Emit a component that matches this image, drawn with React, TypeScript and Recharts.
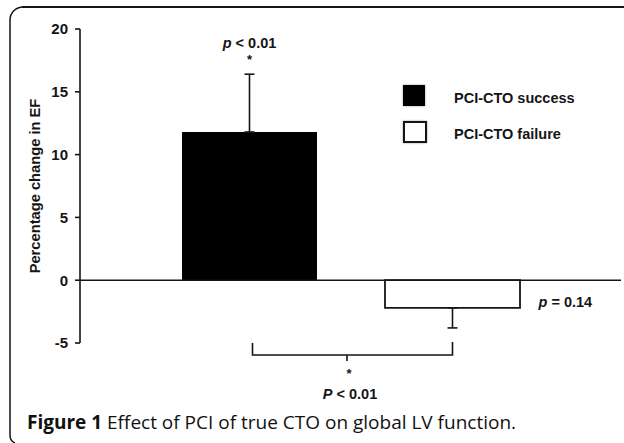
import React from "react";
import {
  BarChart,
  Bar,
  XAxis,
  YAxis,
  Cell,
  ErrorBar,
  ReferenceLine,
  ReferenceDot,
  Legend,
} from "recharts";

const groups = ["PCI-CTO success", "PCI-CTO failure"];
const efChange = [11.8, -2.2];
const errLow = [0, 1.6];
const errHigh = [4.6, 0];
const fills = ["#000000", "#ffffff"];
const yTicks = [-5, 0, 5, 10, 15, 20];

const data = groups.map((g, i) => ({
  group: g,
  value: efChange[i],
  err: [errLow[i], errHigh[i]],
}));

const INK = "#151515";
const BOLD = { fontFamily: "'Liberation Sans', Arial, sans-serif", fontWeight: 700 };

function PText({ viewBox, italic, rest, dx = 0, anchor = "middle" }: any) {
  const { x, y } = viewBox;
  return (
    <text x={x + dx} y={y} dy="0.35em" textAnchor={anchor} fontSize={14.5} fill={INK} style={BOLD}>
      <tspan fontStyle="italic">{italic}</tspan>
      {rest}
    </text>
  );
}

function Star({ viewBox }: any) {
  return (
    <text x={viewBox.x} y={viewBox.y} dy="0.7em" textAnchor="middle" fontSize={13} fill={INK} style={BOLD}>
      *
    </text>
  );
}

// comparison bracket between the two groups, with the shared p value under it
function Bracket({ x1, x2, y1 }: any) {
  const mid = (x1 + x2) / 2;
  return (
    <g stroke={INK} strokeWidth={1.6} fill="none">
      <path d={`M${x1 + 3},${y1 - 12} V${y1} H${x2} V${y1 - 13}`} />
      <path d={`M${mid - 4},${y1} V${y1 + 6}`} />
      <text x={mid - 2} y={y1 + 19} dy="0.35em" textAnchor="middle" fontSize={13} fill={INK} stroke="none" style={BOLD}>
        *
      </text>
      <text x={mid - 1} y={y1 + 39} dy="0.35em" textAnchor="middle" fontSize={14.5} fill={INK} stroke="none" style={BOLD}>
        <tspan fontStyle="italic">P</tspan>
        {" < 0.01"}
      </text>
    </g>
  );
}

function LegendBox() {
  return (
    <div style={{ display: "flex", flexDirection: "column", gap: 15 }}>
      {groups.map((g, i) => (
        <div key={g} style={{ display: "flex", alignItems: "center" }}>
          <div
            style={{
              width: fills[i] === "#ffffff" ? 20 : 22,
              height: fills[i] === "#ffffff" ? 18 : 21,
              background: fills[i],
              border: fills[i] === "#ffffff" ? `2px solid ${INK}` : "none",
              boxShadow: "0 0 2px rgba(0,0,0,0.4)",
            }}
          />
          <span style={{ ...BOLD, fontSize: 14.5, color: INK, marginLeft: fills[i] === "#ffffff" ? 27 : 29, marginTop: 4 }}>
            {g}
          </span>
        </div>
      ))}
    </div>
  );
}

export default function App() {
  return (
    <div style={{ position: "fixed", left: 0, top: 0, width: 624, height: 443, background: "#fff", overflow: "hidden" }}>
      <div style={{ position: "absolute", left: 0, top: 0 }}>
        <BarChart width={624} height={443} data={data} margin={{ top: 29, right: 3, left: 0, bottom: 100 }}>
          <XAxis dataKey="group" hide padding={{ left: 68, right: 67 }} />
          <YAxis
            domain={[-5, 20]}
            ticks={yTicks}
            width={80}
            axisLine={{ stroke: INK, strokeWidth: 1.6 }}
            tickLine={{ stroke: INK, strokeWidth: 1.6 }}
            tickSize={5}
            tickMargin={7}
            tick={{ fill: INK, fontSize: 15, ...BOLD }}
            label={{
              value: "Percentage change in EF",
              angle: -90,
              position: "insideLeft",
              offset: 35,
              style: { textAnchor: "middle", fill: INK, fontSize: 14.7, ...BOLD },
            }}
          />
          <Legend
            layout="horizontal"
            verticalAlign="middle"
            content={() => <LegendBox />}
            wrapperStyle={{ top: 85, left: 403, width: 200 }}
          />
          <ReferenceLine y={0} stroke={INK} strokeWidth={1.6} />
          <Bar dataKey="value" barSize={135} isAnimationActive={false}>
            {data.map((d, i) => (
              <Cell key={d.group} fill={fills[i]} stroke={fills[i] === "#ffffff" ? INK : "none"} strokeWidth={1.8} />
            ))}
            <ErrorBar dataKey="err" width={5} stroke={INK} strokeWidth={1.6} direction="y" />
          </Bar>
          <ReferenceLine
            segment={[
              { x: groups[0], y: -5.95 },
              { x: groups[1], y: -5.95 },
            ]}
            ifOverflow="visible"
            shape={(p: any) => <Bracket {...p} />}
          />
          <ReferenceDot
            x={groups[0]}
            y={18.9}
            r={0}
            ifOverflow="visible"
            label={{ content: (p: any) => <PText viewBox={p.viewBox} italic="p" rest=" < 0.01" /> }}
          />
          <ReferenceDot
            x={groups[0]}
            y={17.9}
            r={0}
            ifOverflow="visible"
            label={{ content: (p: any) => <Star viewBox={p.viewBox} /> }}
          />
          <ReferenceDot
            x={groups[1]}
            y={-1.75}
            r={0}
            ifOverflow="visible"
            label={{ content: (p: any) => <PText viewBox={p.viewBox} italic="p" rest=" = 0.14" dx={86} anchor="start" /> }}
          />
        </BarChart>
      </div>
      <svg width={624} height={443} style={{ position: "absolute", left: 0, top: 0, pointerEvents: "none" }}>
        <path d="M15,443 Q10,441 10,435 V20 A13,13 0 0 1 23,7" fill="none" stroke={INK} strokeWidth={1.5} />
        <line x1={22} y1={7} x2={624} y2={7} stroke={INK} strokeWidth={2} />
      </svg>
      <div
        style={{
          position: "absolute",
          left: 27,
          top: 409,
          fontFamily: "'Open Sans', sans-serif",
          fontSize: 19,
          color: "#111",
          whiteSpace: "nowrap",
        }}
      >
        <b>Figure 1</b> Effect of PCI of true CTO on global LV function.
      </div>
    </div>
  );
}
